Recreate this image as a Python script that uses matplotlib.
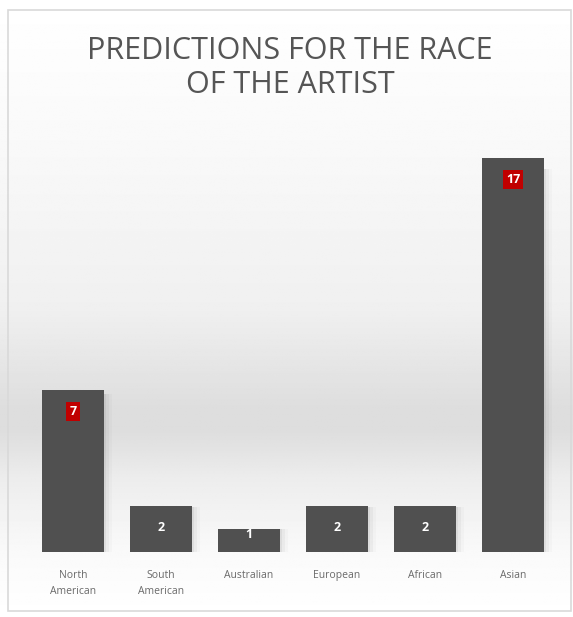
import matplotlib.pyplot as plt
import numpy as np
from matplotlib.patches import Rectangle

# 数据
categories = ['North\nAmerican', 'South\nAmerican', 'Australian', 'European', 'African', 'Asian']
counts = [7, 2, 1, 2, 2, 17]
boxed = [True, False, False, False, False, True]

plt.rcParams['font.family'] = ['Open Sans', 'DejaVu Sans']

fig = plt.figure(figsize=(5.73, 6.17), dpi=100)

# 背景渐变（白 -> 浅灰 -> 白）
bg = fig.add_axes([0, 0, 1, 1], zorder=-10)
yy = np.linspace(0, 1, 400)
shade = np.interp(yy, [0.0, 0.2, 0.5, 0.66, 0.70, 0.78, 0.9, 1.0],
                  [1.0, 0.98, 0.94, 0.87, 0.87, 0.93, 0.98, 1.0])
bg.imshow(np.tile(shade[:, None], (1, 10)), cmap='gray', vmin=0, vmax=1,
          aspect='auto', extent=[0, 1, 0, 1], origin='upper')
bg.add_patch(Rectangle((8 / 573, 6 / 617), 563 / 573, 601 / 617, fill=False,
                       edgecolor='#d9d9d9', linewidth=1.2, transform=bg.transAxes))
bg.set_axis_off()

# 主图区域
ax = fig.add_axes([29 / 573, 65 / 617, 528 / 573, 418 / 617])
ax.patch.set_alpha(0)
x = np.arange(len(categories))

# 柱子阴影
for xi, c in zip(x, counts):
    for k, a in enumerate([0.05, 0.035, 0.02]):
        ax.add_patch(Rectangle((xi - 0.35 + 0.03 * (k + 1), 0), 0.7, c * 0.97,
                               color='black', alpha=a, linewidth=0, zorder=1))

ax.bar(x, counts, width=0.7, color='#505050', zorder=2)
ax.set_xlim(-0.5, 5.5)
ax.set_ylim(0, 418 / 23.2)

# 数值标签
for xi, c, b in zip(x, counts, boxed):
    ypos = c - 0.95 if c >= 2 else c * 0.75
    if b:
        ax.text(xi, ypos, str(c), ha='center', va='center', color='white',
                fontsize=9, fontweight='bold', zorder=3,
                bbox=dict(boxstyle='square,pad=0.25', facecolor='#c00000', edgecolor='none'))
    else:
        ax.text(xi, ypos, str(c), ha='center', va='center', color='white',
                fontsize=9, fontweight='bold', zorder=3)

ax.set_xticks(x)
ax.set_xticklabels(categories, fontsize=7.5, color='#6a6a6a', linespacing=1.6)
ax.tick_params(axis='x', length=0, pad=13)
ax.set_yticks([])
for s in ax.spines.values():
    s.set_visible(False)

fig.text(0.506, 1 - 68 / 617, 'PREDICTIONS FOR THE RACE\nOF THE ARTIST', ha='center', va='center',
         fontsize=22, color='#555555', linespacing=1.15)

plt.savefig('out.png', dpi=100)
